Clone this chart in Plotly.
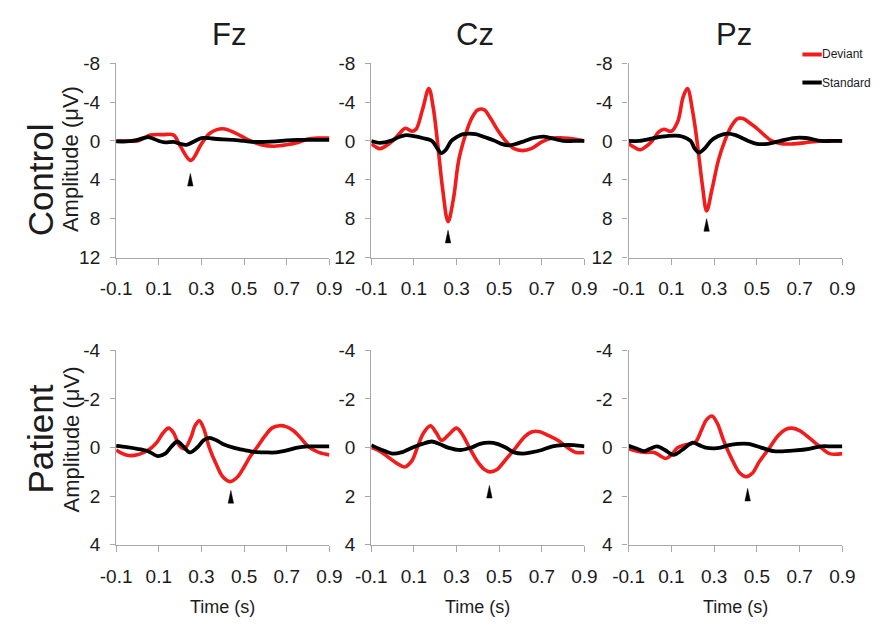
import plotly.graph_objects as go

# ---------------- ERP waveforms (amplitude in µV, time in s) ----------------
# Control group, Fz
fz_ctrl_dev_t = [-0.1, -0.05, 0.0, 0.03, 0.06, 0.12, 0.17, 0.2, 0.25, 0.3, 0.34, 0.4,
                 0.46, 0.52, 0.58, 0.64, 0.7, 0.76, 0.8, 0.85, 0.9]
fz_ctrl_dev_v = [0.0, 0.0, 0.0, -0.3, -0.6, -0.65, -0.6, 0.5, 2.0, 0.3, -0.8, -1.25,
                 -0.8, -0.1, 0.4, 0.55, 0.4, 0.1, -0.2, -0.3, -0.3]
fz_ctrl_std_t = [-0.1, -0.05, 0.0, 0.05, 0.1, 0.13, 0.17, 0.2, 0.23, 0.27, 0.3, 0.35,
                 0.4, 0.45, 0.5, 0.55, 0.6, 0.65, 0.7, 0.75, 0.8, 0.85, 0.9]
fz_ctrl_std_v = [0.05, 0.05, -0.1, -0.4, 0.0, 0.15, 0.1, 0.3, 0.4, 0.0, -0.3, -0.25,
                 -0.15, -0.1, 0.0, 0.1, 0.1, 0.05, -0.05, -0.1, -0.1, -0.1, -0.1]

# Control group, Cz
cz_ctrl_dev_t = [-0.1, -0.08, -0.06, -0.03, 0.0, 0.03, 0.06, 0.09, 0.11, 0.14, 0.17, 0.19,
                 0.21, 0.235, 0.26, 0.285, 0.31, 0.34, 0.37, 0.40, 0.43, 0.46, 0.49, 0.53,
                 0.57, 0.61, 0.65, 0.7, 0.75, 0.8, 0.85, 0.9]
cz_ctrl_dev_v = [0.3, 0.6, 0.8, 0.5, 0.0, -0.7, -1.3, -1.0, -1.2, -3.2, -5.4, -3.5,
                 0.0, 5.0, 8.3, 6.0, 2.0, -0.5, -2.3, -3.2, -3.2, -2.3, -1.2, 0.0,
                 0.8, 1.0, 0.8, 0.1, -0.3, -0.3, -0.2, 0.0]
cz_ctrl_std_t = [-0.1, -0.06, -0.01, 0.03, 0.065, 0.1, 0.14, 0.185, 0.21, 0.228, 0.25,
                 0.275, 0.3, 0.33, 0.36, 0.39, 0.43, 0.47, 0.51, 0.545, 0.58, 0.62,
                 0.66, 0.71, 0.76, 0.8, 0.85, 0.9]
cz_ctrl_std_v = [0.0, 0.2, 0.0, -0.4, -0.6, -0.5, -0.3, 0.0, 0.8, 1.25, 0.9,
                 0.0, -0.4, -0.7, -0.75, -0.7, -0.4, -0.1, 0.3, 0.45, 0.3, 0.0,
                 -0.3, -0.45, -0.2, 0.0, 0.0, 0.0]

# Control group, Pz
pz_ctrl_dev_t = [-0.1, -0.07, -0.045, -0.02, 0.01, 0.04, 0.065, 0.1, 0.13, 0.155, 0.175,
                 0.2, 0.22, 0.245, 0.265, 0.29, 0.32, 0.35, 0.38, 0.41, 0.435, 0.47,
                 0.5, 0.535, 0.57, 0.62, 0.67, 0.72, 0.8, 0.85, 0.9]
pz_ctrl_dev_v = [0.3, 0.7, 0.9, 0.6, 0.0, -0.9, -1.2, -1.0, -2.0, -4.5, -5.4,
                 -3.0, 0.0, 4.5, 7.2, 5.0, 2.0, 0.0, -1.5, -2.3, -2.3, -1.8,
                 -1.3, -0.6, 0.0, 0.3, 0.3, 0.2, 0.0, 0.0, 0.0]
pz_ctrl_std_t = [-0.1, -0.05, 0.0, 0.04, 0.08, 0.12, 0.15, 0.19, 0.21, 0.23, 0.255, 0.285,
                 0.32, 0.36, 0.4, 0.46, 0.5, 0.55, 0.61, 0.67, 0.73, 0.8, 0.85, 0.9]
pz_ctrl_std_v = [0.0, 0.0, -0.2, -0.4, -0.5, -0.55, -0.45, 0.0, 0.8, 1.2, 0.8, 0.0,
                 -0.5, -0.75, -0.6, 0.0, 0.3, 0.3, 0.0, -0.3, -0.3, 0.0, 0.0, 0.0]

# Patient group, Fz
fz_pat_dev_t = [-0.1, -0.07, -0.04, 0.0, 0.03, 0.06, 0.09, 0.12, 0.146, 0.17, 0.195,
                0.22, 0.25, 0.27, 0.29, 0.31, 0.337, 0.37, 0.4, 0.435, 0.47, 0.5,
                0.53, 0.56, 0.6, 0.63, 0.665, 0.7, 0.73, 0.76, 0.8, 0.85, 0.9]
fz_pat_dev_v = [0.1, 0.25, 0.33, 0.3, 0.2, 0.05, -0.2, -0.6, -0.8, -0.6, -0.1,
                0.05, -0.4, -0.9, -1.1, -0.8, 0.0, 0.7, 1.2, 1.4, 1.2, 0.8,
                0.35, 0.0, -0.5, -0.8, -0.9, -0.85, -0.7, -0.45, -0.05, 0.2, 0.3]
fz_pat_std_t = [-0.1, -0.05, 0.0, 0.05, 0.095, 0.13, 0.16, 0.187, 0.215, 0.245, 0.28,
                0.31, 0.337, 0.37, 0.4, 0.45, 0.5, 0.55, 0.6, 0.65, 0.7, 0.75,
                0.8, 0.85, 0.9]
fz_pat_std_v = [-0.07, -0.02, 0.05, 0.15, 0.35, 0.25, -0.05, -0.25, -0.05, 0.2, 0.0,
                -0.3, -0.4, -0.3, -0.15, 0.0, 0.1, 0.18, 0.2, 0.2, 0.12, 0.0,
                -0.05, -0.05, -0.05]

# Patient group, Cz
cz_pat_dev_t = [-0.1, -0.06, -0.02, 0.02, 0.056, 0.09, 0.116, 0.145, 0.177, 0.205,
                0.23, 0.26, 0.3, 0.33, 0.36, 0.4, 0.43, 0.455, 0.49, 0.53,
                0.578, 0.62, 0.655, 0.69, 0.73, 0.775, 0.82, 0.86, 0.9]
cz_pat_dev_v = [0.0, 0.15, 0.4, 0.65, 0.8, 0.55, 0.0, -0.6, -0.9, -0.6,
                -0.3, -0.5, -0.8, -0.5, 0.0, 0.6, 0.9, 1.0, 0.9, 0.5,
                0.0, -0.45, -0.65, -0.65, -0.5, -0.3, 0.0, 0.2, 0.2]
cz_pat_std_t = [-0.1, -0.05, 0.0, 0.04, 0.094, 0.14, 0.184, 0.22, 0.26, 0.32, 0.37,
                0.41, 0.455, 0.49, 0.53, 0.57, 0.61, 0.65, 0.7, 0.75, 0.8, 0.85, 0.9]
cz_pat_std_v = [-0.1, 0.1, 0.25, 0.2, 0.0, -0.15, -0.25, -0.15, 0.0, 0.1, 0.0,
                -0.15, -0.2, -0.15, 0.0, 0.2, 0.25, 0.2, 0.1, -0.05, -0.1, -0.1, -0.05]

# Patient group, Pz
pz_pat_dev_t = [-0.1, -0.06, -0.02, 0.02, 0.05, 0.075, 0.1, 0.13, 0.16, 0.19, 0.215,
                0.24, 0.265, 0.29, 0.315, 0.34, 0.358, 0.39, 0.42, 0.45, 0.48,
                0.51, 0.56, 0.6, 0.635, 0.665, 0.7, 0.745, 0.8, 0.84, 0.9]
pz_pat_dev_v = [0.05, 0.15, 0.2, 0.2, 0.35, 0.45, 0.3, 0.0, -0.1, -0.15, -0.25,
                -0.7, -1.15, -1.3, -1.0, -0.4, 0.0, 0.6, 1.05, 1.2, 1.05,
                0.6, 0.0, -0.5, -0.75, -0.8, -0.7, -0.4, 0.0, 0.25, 0.25]
pz_pat_std_t = [-0.1, -0.06, -0.027, 0.0, 0.033, 0.07, 0.11, 0.15, 0.2, 0.23, 0.26,
                0.3, 0.33, 0.37, 0.41, 0.46, 0.52, 0.58, 0.63, 0.68, 0.745, 0.8, 0.85, 0.9]
pz_pat_std_v = [-0.07, 0.05, 0.15, 0.05, -0.05, 0.1, 0.3, 0.1, -0.2, -0.1, 0.0,
                0.03, 0.0, -0.1, -0.15, -0.15, 0.0, 0.15, 0.15, 0.12, 0.05, -0.05, -0.05, -0.05]

# Peak markers (latency, amplitude at arrow tip), panel order Fz/Cz/Pz control then patient
arrow_time = [0.248, 0.26, 0.265, 0.438, 0.454, 0.457]
arrow_tip = [3.35, 9.2, 8.0, 1.77, 1.56, 1.68]

# Axis ticks
time_ticks = [-0.1, 0.1, 0.3, 0.5, 0.7, 0.9]
time_tick_labels = ["-0.1", "0.1", "0.3", "0.5", "0.7", "0.9"]
ctrl_amp_ticks = [-8, -4, 0, 4, 8, 12]
ctrl_amp_labels = ["-8", "-4", "0", "4", "8", "12"]
pat_amp_ticks = [-4, -2, 0, 2, 4]
pat_amp_labels = ["-4", "-2", "0", "2", "4"]

electrodes = ["Fz", "Cz", "Pz"]
groups = ["Control", "Patient"]
series_names = ["Deviant", "Standard"]

# ---------------- layout geometry ----------------
W, H = 887, 636
col_domains = [[103.5 / W, 324 / W], [367.3 / W, 587.7 / W], [633.3 / W, 854.3 / W]]
row_domains = [[1 - 256 / H, 1 - 55 / H], [1 - 553 / H, 1 - 352 / H]]
row_ranges = [[12, -8], [4, -4]]
row_ticks = [(ctrl_amp_ticks, ctrl_amp_labels), (pat_amp_ticks, pat_amp_labels)]

RED = "#f21c1c"
BLACK = "#000000"
AXIS_GRAY = "#a8a8a8"
TEXT = "#1c1c1c"
SANS = "Liberation Sans, Arial, sans-serif"

panels = [
    (fz_ctrl_dev_t, fz_ctrl_dev_v, fz_ctrl_std_t, fz_ctrl_std_v),
    (cz_ctrl_dev_t, cz_ctrl_dev_v, cz_ctrl_std_t, cz_ctrl_std_v),
    (pz_ctrl_dev_t, pz_ctrl_dev_v, pz_ctrl_std_t, pz_ctrl_std_v),
    (fz_pat_dev_t, fz_pat_dev_v, fz_pat_std_t, fz_pat_std_v),
    (cz_pat_dev_t, cz_pat_dev_v, cz_pat_std_t, cz_pat_std_v),
    (pz_pat_dev_t, pz_pat_dev_v, pz_pat_std_t, pz_pat_std_v),
]

fig = go.Figure()
layout_axes = {}

ARROW_HALF_W_PX = 2.8
ARROW_H_PX = 13

for i, (dev_t, dev_v, std_t, std_v) in enumerate(panels):
    row, col = divmod(i, 3)
    n = i + 1
    xa, ya = f"x{n}", f"y{n}"

    fig.add_trace(go.Scatter(x=dev_t, y=dev_v, mode="lines", name=series_names[0],
                             line=dict(color=RED, width=3.6, shape="spline", smoothing=1.0),
                             xaxis=xa, yaxis=ya, showlegend=False))
    fig.add_trace(go.Scatter(x=std_t, y=std_v, mode="lines", name=series_names[1],
                             line=dict(color=BLACK, width=3.8, shape="spline", smoothing=0.9),
                             xaxis=xa, yaxis=ya, showlegend=False))

    # narrow arrowhead pointing up at the peak latency
    dx0, dx1 = col_domains[col]
    dy0, dy1 = row_domains[row]
    px_w = (dx1 - dx0) * W
    px_h = (dy1 - dy0) * H
    yspan = abs(row_ranges[row][0] - row_ranges[row][1])
    hw = ARROW_HALF_W_PX / px_w * 1.0
    hh = ARROW_H_PX / px_h * yspan
    t0, tip = arrow_time[i], arrow_tip[i]
    fig.add_trace(go.Scatter(x=[t0 - hw, t0, t0 + hw, t0 - hw],
                             y=[tip + hh, tip, tip + hh, tip + hh],
                             mode="lines", fill="toself", fillcolor=BLACK,
                             line=dict(color=BLACK, width=0.5),
                             xaxis=xa, yaxis=ya, showlegend=False, hoverinfo="skip"))

    ticks, labels = row_ticks[row]
    layout_axes[f"xaxis{n}" if n > 1 else "xaxis"] = dict(
        domain=col_domains[col], anchor=ya, range=[-0.1, 0.9],
        tickmode="array", tickvals=time_ticks, ticktext=time_tick_labels,
        showline=True, linecolor=AXIS_GRAY, linewidth=1.2,
        ticks="outside", ticklen=6, tickwidth=1, tickcolor=AXIS_GRAY,
        showgrid=False, zeroline=False, ticklabelstandoff=8,
        tickfont=dict(family=SANS, size=19, color=TEXT),
    )
    layout_axes[f"yaxis{n}" if n > 1 else "yaxis"] = dict(
        domain=row_domains[row], anchor=xa, range=row_ranges[row],
        tickmode="array", tickvals=ticks, ticktext=labels,
        showline=True, linecolor=AXIS_GRAY, linewidth=1.2,
        ticks="outside", ticklen=5, tickwidth=1, tickcolor=AXIS_GRAY,
        showgrid=False, zeroline=False, ticklabelstandoff=6,
        tickfont=dict(family=SANS, size=19, color=TEXT),
    )

annotations = []
# electrode titles
for name, xc in zip(electrodes, [220, 474, 742]):
    annotations.append(dict(text=name, x=xc / W, y=1 - 25 / H, xref="paper", yref="paper",
                            showarrow=False, xanchor="center", yanchor="middle",
                            font=dict(family=SANS, size=31, color=TEXT)))
# group labels and amplitude titles
for g, yc, ya_c in zip(groups, [176, 444], [154, 444]):
    annotations.append(dict(text=g, x=25 / W, y=1 - yc / H, xref="paper", yref="paper",
                            showarrow=False, textangle=-90, xanchor="center", yanchor="middle",
                            font=dict(family=SANS, size=35, color=TEXT)))
    annotations.append(dict(text="Amplitude (μV)", x=57 / W, y=1 - ya_c / H, xref="paper",
                            yref="paper", showarrow=False, textangle=-90,
                            xanchor="center", yanchor="middle",
                            font=dict(family=SANS, size=22, color=TEXT)))
# time axis titles under the patient row
for col in range(3):
    xc = (col_domains[col][0] + col_domains[col][1]) / 2
    annotations.append(dict(text="Time (s)", x=xc, y=1 - 617 / H, xref="paper", yref="paper",
                            showarrow=False, xanchor="center", yanchor="middle",
                            font=dict(family=SANS, size=18, color=TEXT)))

# legend: short line sample followed by the label
shapes = []
for name, color, yc in zip(series_names, [RED, BLACK], [46, 75]):
    shapes.append(dict(type="line", xref="paper", yref="paper",
                       x0=813 / W, x1=833 / W, y0=1 - yc / H, y1=1 - yc / H,
                       line=dict(color=color, width=4)))
    annotations.append(dict(text=name, x=831 / W, y=1 - yc / H, xref="paper", yref="paper",
                            showarrow=False, xanchor="left", yanchor="middle",
                            font=dict(family=SANS, size=12, color=TEXT)))

fig.update_layout(
    width=W, height=H,
    margin=dict(l=0, r=0, t=0, b=0),
    paper_bgcolor="white", plot_bgcolor="white",
    showlegend=False,
    annotations=annotations, shapes=shapes,
    **layout_axes,
)

fig.write_html("out.html")
